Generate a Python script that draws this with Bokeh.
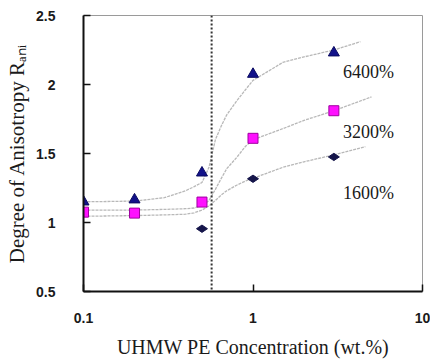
import math
from bokeh.plotting import figure
from bokeh.models import Range1d, Span, Label, FixedTicker
from bokeh.embed import file_html
from bokeh.resources import INLINE

# ---- data ----
conc = [0.1, 0.2, 0.5, 1.0, 3.0]
r_6400 = [1.15, 1.165, 1.36, 2.075, 2.23]
r_3200 = [1.075, 1.068, 1.148, 1.61, 1.81]
conc_1600 = [0.5, 1.0, 3.0]
r_1600 = [0.955, 1.317, 1.475]

fit_x_6400 = [0.1, 0.2, 0.3, 0.4, 0.45, 0.5, 0.55, 0.6, 0.65, 0.7, 0.8, 0.9, 1.0, 1.5, 2.0, 3.0, 4.3]
fit_6400 = [1.15, 1.155, 1.18, 1.23, 1.26, 1.29, 1.40, 1.60, 1.70, 1.78, 1.88, 1.96, 2.03, 2.16, 2.20, 2.25, 2.31]
fit_x_3200 = [0.1, 0.2, 0.3, 0.4, 0.45, 0.5, 0.55, 0.6, 0.65, 0.7, 0.8, 0.9, 1.0, 1.5, 2.0, 3.0, 5.0]
fit_3200 = [1.09, 1.09, 1.095, 1.10, 1.105, 1.12, 1.16, 1.24, 1.32, 1.39, 1.47, 1.55, 1.60, 1.68, 1.74, 1.81, 1.91]
fit_x_1600 = [0.1, 0.2, 0.3, 0.4, 0.45, 0.5, 0.55, 0.6, 0.65, 0.7, 0.8, 0.9, 1.0, 1.5, 2.0, 3.0, 4.6]
fit_1600 = [1.045, 1.05, 1.055, 1.06, 1.07, 1.09, 1.12, 1.16, 1.20, 1.23, 1.27, 1.30, 1.32, 1.40, 1.44, 1.49, 1.55]

critical_conc = 0.57
series_labels = ["6400%", "3200%", "1600%"]
x_ticks = [0.1, 1, 10]
y_ticks = [0.5, 1, 1.5, 2, 2.5]
x_title = "UHMW PE Concentration (wt.%)"
y_title = "Degree of Anisotropy R\u2090\u2099\u1d62"

SERIF = "Liberation Serif"
SANS = "Liberation Sans"

p = figure(width=430, height=360, x_axis_type="log",
           x_range=Range1d(0.1, 10), y_range=Range1d(0.5, 2.5),
           output_backend="svg", toolbar_location=None,
           min_border_left=83, min_border_right=8,
           min_border_top=15, min_border_bottom=68)
p.xgrid.visible = False
p.ygrid.visible = False
p.outline_line_color = "#9a9a9a"
p.outline_line_width = 1
p.background_fill_color = "white"
p.border_fill_color = "white"

for ax in (p.xaxis[0], p.yaxis[0]):
    ax.axis_line_color = "#111111"
    ax.axis_line_width = 2
    ax.major_tick_in = 7
    ax.major_tick_out = 0
    ax.major_tick_line_width = 1.5
    ax.major_tick_line_color = "#111111"
    ax.minor_tick_line_color = None
    ax.major_label_text_font = SANS
    ax.major_label_text_font_style = "bold"
    ax.major_label_text_font_size = "14px"
    ax.major_label_text_color = "#1a1a1a"
    ax.axis_label_text_font = SERIF
    ax.axis_label_text_font_style = "normal"
    ax.axis_label_text_color = "#1a1a1a"

p.xaxis.ticker = FixedTicker(ticks=x_ticks)
p.xaxis.major_label_overrides = {0.1: "0.1", 1: "1", 10: "10"}
p.xaxis.major_label_standoff = 21
p.xaxis.axis_label = x_title
p.xaxis.axis_label_text_font_size = "20px"
p.xaxis.axis_label_standoff = 10

p.yaxis.ticker = FixedTicker(ticks=y_ticks)
p.yaxis.major_label_overrides = {0.5: "0.5", 1: "1", 1.5: "1.5", 2: "2", 2.5: "2.5"}
p.yaxis.major_label_standoff = 28
p.yaxis.axis_label = y_title
p.yaxis.axis_label_text_font_size = "21px"
p.yaxis.axis_label_standoff = 4

# fitted curves
for fx, fy in ((fit_x_6400, fit_6400), (fit_x_3200, fit_3200), (fit_x_1600, fit_1600)):
    p.line(fx, fy, line_color="#b8b8b8", line_width=1.3, line_dash="3 1")

# critical concentration
p.add_layout(Span(location=critical_conc, dimension="height",
                  line_color="#333333", line_width=2, line_dash="2 2"))

# markers
p.scatter(conc, r_6400, marker="triangle", size=11, fill_color="#12128a",
          line_color="#0a0a60", line_width=1)
p.scatter(conc, r_3200, marker="square", size=10, fill_color="#ff10ff",
          line_color="#a000a0", line_width=1)
p.scatter(conc_1600, r_1600, marker="diamond", size=11, angle=math.pi / 2,
          fill_color="#15154a", line_color="#15154a", line_width=1)

# series labels
label_y = [2.09, 1.655, 1.215]
for txt, ly in zip(series_labels, label_y):
    p.add_layout(Label(x=3.4, y=ly, text=txt, text_font=SERIF,
                       text_font_size="18px", text_color="#1a1a1a",
                       text_align="left", text_baseline="middle"))

open("out.html", "w").write(file_html(p, INLINE))
